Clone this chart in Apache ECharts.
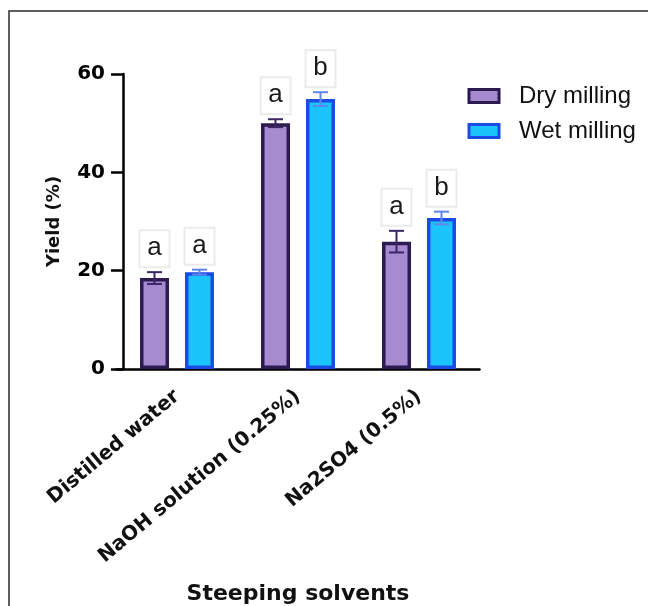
<!DOCTYPE html>
<html>
<head>
<meta charset="utf-8">
<script src="https://cdn.jsdelivr.net/npm/echarts@6/dist/echarts.min.js"></script>
<style>
  html, body { margin: 0; padding: 0; background: #fff; }
  #chart { width: 648px; height: 606px; }
</style>
</head>
<body>
<div id="chart"></div>
<script>
// values
var categories = ['Distilled water', 'NaOH solution (0.25%)', 'Na2SO4 (0.5%)'];
var dryMean = [18.5, 50.0, 25.9];
var dryErr = [1.2, 0.8, 2.2];
var wetMean = [19.7, 54.9, 30.7];
var wetErr = [0.5, 1.4, 1.3];
var dryLetters = ['a', 'a', 'a'];
var wetLetters = ['a', 'b', 'b'];
var yTicks = { min: 0, max: 60, interval: 20 };

function errData(mean, err) {
    var out = [];
    for (var i = 0; i < mean.length; i++) {
        out.push([i, mean[i], err[i]]);
    }
    return out;
}

// error bar + letter box, drawn through the axes
function errRender(offset, color, letters) {
    return function (params, api) {
        var m = api.value(1), e = api.value(2);
        var top = api.coord([api.value(0), m + e]);
        var bot = api.coord([api.value(0), m - e]);
        var cx = top[0] + offset;
        var cy = top[1] - 24;
        return {
            type: 'group',
            children: [
                { type: 'line', shape: { x1: cx, y1: top[1], x2: cx, y2: bot[1] }, style: { stroke: color, lineWidth: 2 } },
                { type: 'line', shape: { x1: cx - 7.5, y1: top[1], x2: cx + 7.5, y2: top[1] }, style: { stroke: color, lineWidth: 2 } },
                { type: 'line', shape: { x1: cx - 7.5, y1: bot[1], x2: cx + 7.5, y2: bot[1] }, style: { stroke: color, lineWidth: 2 } },
                { type: 'rect', shape: { x: cx - 15, y: cy - 18, width: 30, height: 37 }, style: { fill: '#fff', stroke: '#ebebeb', lineWidth: 2 } },
                { type: 'text', style: { text: letters[params.dataIndex], x: cx, y: cy, align: 'center', verticalAlign: 'middle',
                    fontSize: 26, fontFamily: 'Liberation Sans', fill: '#1a1a1a' } }
            ]
        };
    };
}

var chart = echarts.init(document.getElementById('chart'));
chart.setOption({
    animation: false,
    backgroundColor: '#fff',
    graphic: [{
        type: 'polyline',
        shape: { points: [[9, 606], [9, 11], [648, 11]] },
        style: { stroke: '#2b2b2b', lineWidth: 1.5, fill: null }
    }],
    grid: { left: 116.5, right: 168.5, top: 74, bottom: 237, outerBoundsMode: 'none', containLabel: false },
    legend: {
        data: ['Dry milling', 'Wet milling'],
        orient: 'vertical',
        left: 467.5,
        top: 84,
        padding: 0,
        itemWidth: 30,
        itemHeight: 13,
        itemGap: 11,
        icon: 'rect',
        itemStyle: { borderWidth: 3 },
        textStyle: { fontFamily: 'Liberation Sans', fontSize: 24, color: '#111', padding: [0, 0, 0, 15] }
    },
    xAxis: {
        type: 'category',
        data: categories,
        name: 'Steeping solvents',
        nameLocation: 'middle',
        nameGap: 214,
        nameTextStyle: { fontFamily: 'DejaVu Sans', fontWeight: 'bold', fontSize: 22, color: '#111' },
        axisLine: { lineStyle: { color: '#000', width: 2.5 } },
        axisTick: { alignWithLabel: true, length: 11, lineStyle: { color: '#000', width: 2.5 } },
        axisLabel: { rotate: 40, margin: 25, fontFamily: 'DejaVu Sans', fontWeight: 'bold', fontSize: 20, color: '#111' }
    },
    yAxis: {
        type: 'value',
        min: yTicks.min,
        max: yTicks.max,
        interval: yTicks.interval,
        offset: -6.5,
        name: 'Yield (%)',
        nameLocation: 'middle',
        nameGap: 60,
        nameTextStyle: { fontFamily: 'DejaVu Sans', fontWeight: 'bold', fontSize: 18, color: '#111' },
        splitLine: { show: false },
        axisLine: { show: true, lineStyle: { color: '#000', width: 2.5 } },
        axisTick: { show: true, length: 12, lineStyle: { color: '#000', width: 2.5 } },
        axisLabel: { margin: 18, fontFamily: 'DejaVu Sans', fontWeight: 'bold', fontSize: 20, color: '#000' }
    },
    series: [
        {
            name: 'Dry milling',
            type: 'bar',
            data: dryMean,
            barWidth: 29,
            barGap: '55%',
            itemStyle: { color: '#a78bd1', borderColor: '#2c1a50', borderWidth: 3.5 }
        },
        {
            name: 'Wet milling',
            type: 'bar',
            data: wetMean,
            barWidth: 29,
            barGap: '55%',
            itemStyle: { color: '#1cc4fc', borderColor: '#1a4be6', borderWidth: 3.5 }
        },
        {
            name: 'dry error',
            type: 'custom',
            data: errData(dryMean, dryErr),
            renderItem: errRender(-22.5, '#3a2566', dryLetters),
            z: 5
        },
        {
            name: 'wet error',
            type: 'custom',
            data: errData(wetMean, wetErr),
            renderItem: errRender(22.5, '#5f86ee', wetLetters),
            z: 5
        }
    ]
});
</script>
</body>
</html>
